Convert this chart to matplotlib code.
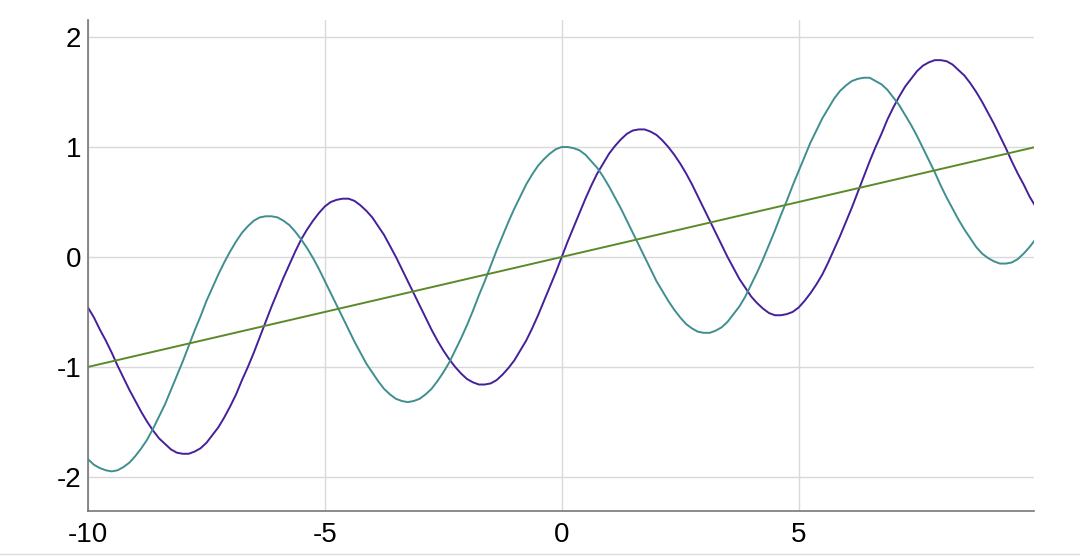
import matplotlib
matplotlib.use("Agg")
import matplotlib.pyplot as plt
import numpy as np

plt.rcParams['font.family'] = ['Liberation Sans', 'DejaVu Sans']

# sample positions, read every 0.125 along the x axis
x = np.linspace(-10, 10, 161)

purple = [-0.46, -0.55, -0.66, -0.76, -0.87, -0.99, -1.10, -1.21, -1.31, -1.41,
          -1.50, -1.58, -1.65, -1.70, -1.75, -1.78, -1.79, -1.79, -1.77, -1.74,
          -1.69, -1.62, -1.55, -1.46, -1.36, -1.25, -1.12, -1.00, -0.87, -0.73,
          -0.59, -0.45, -0.32, -0.19, -0.07, 0.05, 0.16, 0.25, 0.33, 0.40,
          0.46, 0.50, 0.52, 0.53, 0.53, 0.51, 0.47, 0.42, 0.36, 0.28,
          0.20, 0.10, 0.00, -0.11, -0.22, -0.33, -0.44, -0.55, -0.66, -0.76,
          -0.85, -0.93, -1.00, -1.06, -1.11, -1.14, -1.16, -1.16, -1.15, -1.12,
          -1.07, -1.01, -0.94, -0.85, -0.76, -0.65, -0.53, -0.40, -0.27, -0.14,
          0.00,
          0.14, 0.27, 0.40, 0.53, 0.65, 0.76, 0.85, 0.94, 1.01, 1.07,
          1.12, 1.15, 1.16, 1.16, 1.14, 1.11, 1.06, 1.00, 0.93, 0.85,
          0.76, 0.66, 0.55, 0.44, 0.33, 0.22, 0.11, 0.00, -0.10, -0.20,
          -0.28, -0.36, -0.42, -0.47, -0.51, -0.53, -0.53, -0.52, -0.50, -0.46,
          -0.40, -0.33, -0.25, -0.16, -0.05, 0.07, 0.19, 0.32, 0.45, 0.59,
          0.73, 0.87, 1.00, 1.12, 1.25, 1.36, 1.46, 1.55, 1.62, 1.69,
          1.74, 1.77, 1.79, 1.79, 1.78, 1.75, 1.70, 1.65, 1.58, 1.50,
          1.41, 1.31, 1.21, 1.10, 0.99, 0.87, 0.76, 0.66, 0.55, 0.46]

teal = [-1.84, -1.89, -1.92, -1.94, -1.95, -1.94, -1.91, -1.87, -1.81, -1.74,
        -1.66, -1.56, -1.45, -1.34, -1.21, -1.08, -0.95, -0.81, -0.67, -0.54,
        -0.40, -0.28, -0.16, -0.05, 0.05, 0.14, 0.22, 0.28, 0.33, 0.36,
        0.37, 0.37, 0.36, 0.33, 0.29, 0.23, 0.16, 0.08, -0.01, -0.11,
        -0.22, -0.33, -0.44, -0.55, -0.66, -0.77, -0.87, -0.97, -1.05, -1.13,
        -1.20, -1.25, -1.29, -1.31, -1.32, -1.31, -1.29, -1.25, -1.20, -1.13,
        -1.05, -0.96, -0.85, -0.74, -0.62, -0.49, -0.35, -0.22, -0.08, 0.06,
        0.19, 0.32, 0.44, 0.55, 0.66, 0.75, 0.83, 0.89, 0.94, 0.98,
        1.00,
        1.00, 0.99, 0.97, 0.93, 0.87, 0.81, 0.73, 0.64, 0.54, 0.44,
        0.33, 0.22, 0.11, 0.00, -0.11, -0.22, -0.31, -0.40, -0.48, -0.55,
        -0.61, -0.65, -0.68, -0.69, -0.69, -0.67, -0.64, -0.59, -0.52, -0.45,
        -0.36, -0.25, -0.14, -0.02, 0.11, 0.24, 0.38, 0.51, 0.65, 0.78,
        0.91, 1.04, 1.15, 1.26, 1.35, 1.44, 1.51, 1.56, 1.60, 1.62,
        1.63, 1.63, 1.60, 1.57, 1.52, 1.45, 1.38, 1.29, 1.20, 1.10,
        0.99, 0.88, 0.77, 0.65, 0.54, 0.44, 0.34, 0.25, 0.17, 0.09,
        0.03, -0.01, -0.04, -0.06, -0.06, -0.05, -0.02, 0.03, 0.09, 0.16]

trend_x = [-10, 10]
trend_y = [-1, 1]

xticks = [-10, -5, 0, 5]
yticks = [-2, -1, 0, 1, 2]

fig = plt.figure(figsize=(10.8, 5.56), dpi=100)
ax = fig.add_axes([0.0815, 0.081, 0.8755, 0.883])

ax.plot(x, purple, color='#45209a', lw=1.4, solid_joinstyle='round')
ax.plot(x, teal, color='#3f8f8f', lw=1.4, solid_joinstyle='round')
ax.plot(trend_x, trend_y, color='#5b8a2b', lw=1.4)

ax.set_xlim(-10, 9.96)
ax.set_ylim(-2.31, 2.155)
ax.set_xticks(xticks)
ax.set_yticks(yticks)
ax.set_xticklabels([str(t) for t in xticks])
ax.set_yticklabels([str(t) for t in yticks])
ax.grid(True, color='#d9d9d9', lw=1)
ax.set_axisbelow(True)
ax.tick_params(length=0, labelsize=20, pad=8)
ax.tick_params(axis='y', pad=5)
for s in ['top', 'right']:
    ax.spines[s].set_visible(False)
for s in ['left', 'bottom']:
    ax.spines[s].set_color('#777777')
    ax.spines[s].set_linewidth(1.2)

fig.add_artist(plt.Line2D([0, 1], [0.004, 0.004], color='#dddddd', lw=1))

fig.savefig('out.png', dpi=100)
